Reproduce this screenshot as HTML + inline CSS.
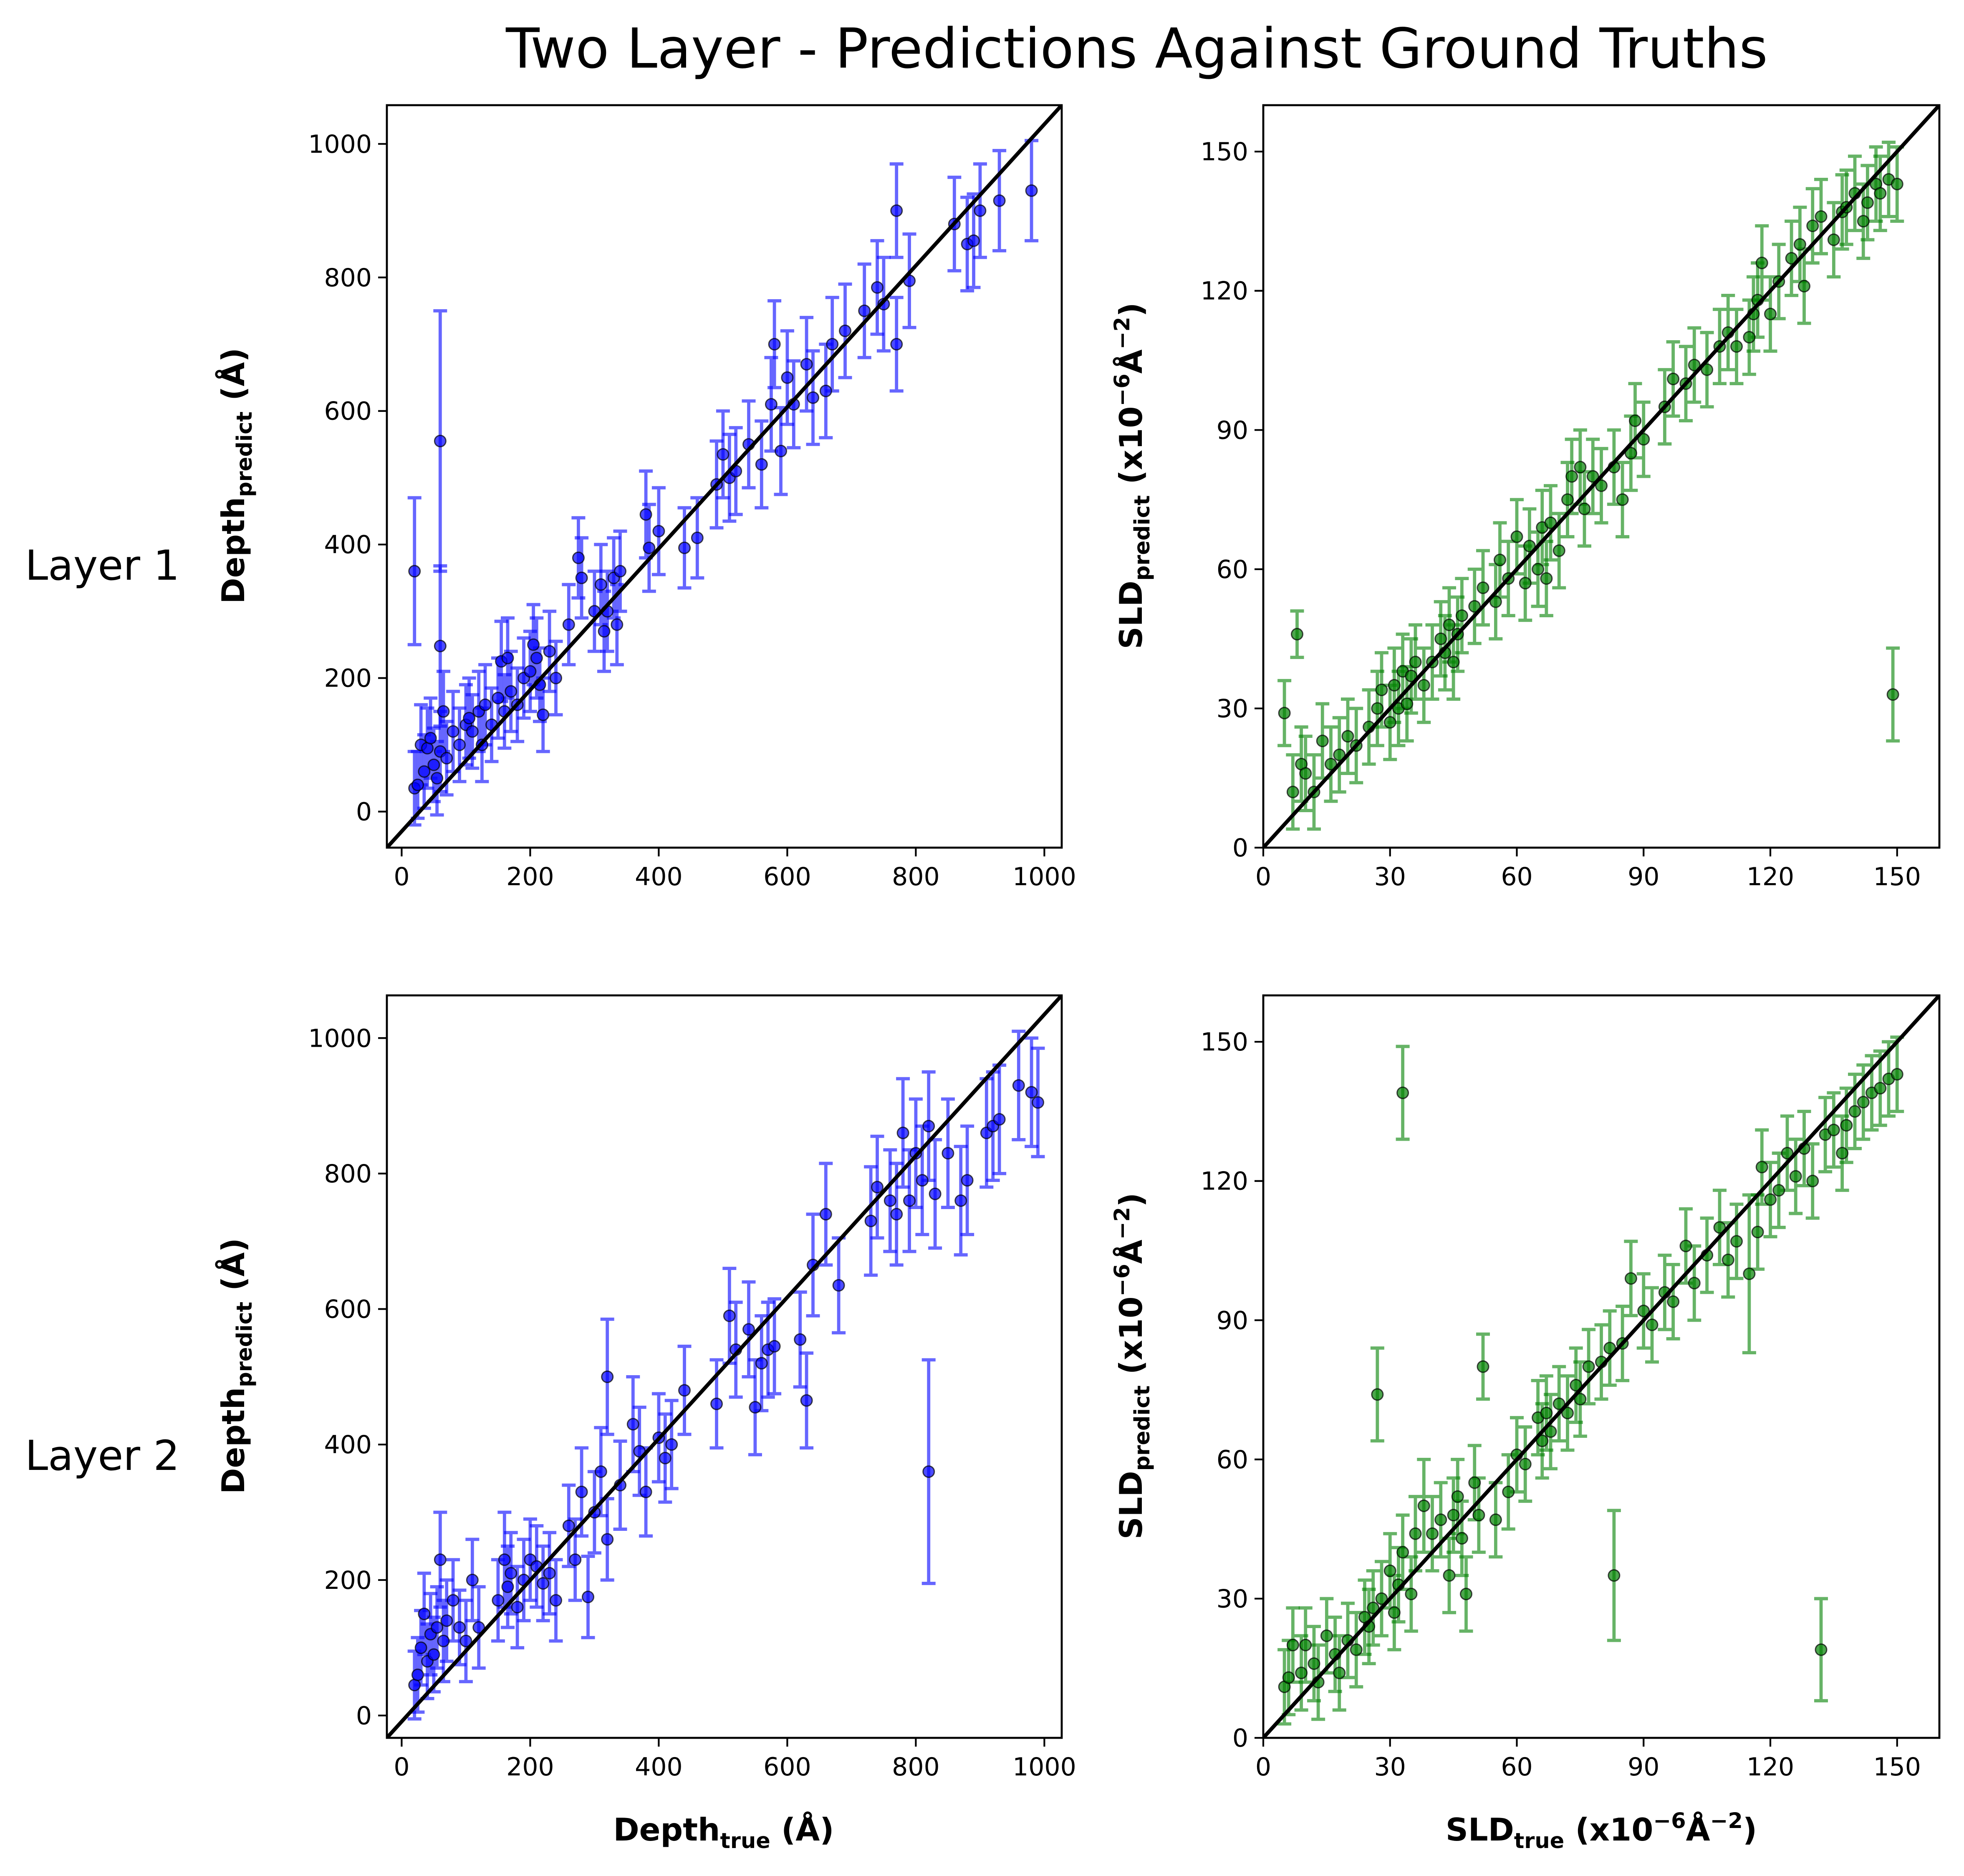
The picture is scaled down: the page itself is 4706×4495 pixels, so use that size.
<!DOCTYPE html>
<html><head><meta charset="utf-8"><style>html,body{margin:0;padding:0;background:#fff}svg{display:block}text{font-family:"DejaVu Sans","Liberation Sans",sans-serif}</style></head>
<body>
<svg id="fig" xmlns="http://www.w3.org/2000/svg" width="4706" height="4495" viewBox="0 0 1568.67 1498.33">
<rect width="1568.67" height="1498.33" fill="#fff"/>
<text x="908" y="54" font-size="44" text-anchor="middle">Two Layer - Predictions Against Ground Truths</text>
<text x="20" y="463" font-size="33">Layer 1</text>
<text x="20" y="1174" font-size="33">Layer 2</text>
<g id="plots"></g>
</svg>
<script>
// Panel 1: Layer 1 depth
const d1True = [20,20,25,30,35,40,45,50,55,60,60,60,65,70,80,90,100,105,110,120,125,130,140,150,155,160,165,170,180,190,200,205,210,215,220,230,240,260,275,280,300,310,315,320,330,335,340,380,385,400,440,460,490,500,510,520,540,560,575,580,590,600,610,630,640,660,670,690,720,740,750,770,770,790,860,880,890,900,930,980];
const d1Pred = [360,35,40,100,60,95,110,70,50,555,248,90,150,80,120,100,130,140,120,150,100,160,130,170,225,150,230,180,160,200,210,250,230,190,145,240,200,280,380,350,300,340,270,300,350,280,360,445,395,420,395,410,490,535,500,510,550,520,610,700,540,650,610,670,620,630,700,720,750,785,760,700,900,795,880,850,855,900,915,930];
const d1Err = [110,55,50,60,55,60,60,55,55,195,120,60,60,55,60,55,60,60,55,60,55,60,55,60,60,55,60,60,55,60,60,60,60,55,55,60,55,60,60,60,60,60,60,60,60,60,60,65,65,65,60,60,65,65,65,65,65,65,70,65,65,70,65,70,70,70,70,70,70,70,70,70,70,70,70,70,70,70,75,75];
// Panel 2: Layer 1 SLD
const s1True = [5,8,7,9,10,12,14,16,18,20,22,25,27,28,30,31,32,33,34,35,36,38,40,42,43,44,45,46,47,50,52,55,56,58,60,62,63,65,66,67,68,70,72,73,75,76,78,80,83,85,87,88,90,95,97,100,102,105,108,110,112,115,116,117,118,120,122,125,127,128,130,132,135,137,138,140,142,143,145,146,148,149,150];
const s1Pred = [29,46,12,18,16,12,23,18,20,24,22,26,30,34,27,35,30,38,31,37,40,35,40,45,42,48,40,46,50,52,56,53,62,58,67,57,65,60,69,58,70,64,75,80,82,73,80,78,82,75,85,92,88,95,101,100,104,103,108,111,108,110,115,118,126,115,122,127,130,121,134,136,131,137,138,141,135,139,143,141,144,33,143];
const s1Err = [7,5,8,8,8,8,8,8,8,8,8,8,8,8,8,8,8,8,8,8,8,8,8,8,8,8,8,8,8,8,8,8,8,8,8,8,8,8,8,8,8,8,8,8,8,8,8,8,8,8,8,8,8,8,8,8,8,8,8,8,8,8,8,8,8,8,8,8,8,8,8,8,8,8,8,8,8,8,8,8,8,10,8];
// Panel 3: Layer 2 depth
const d2True = [20,25,30,35,40,45,50,55,60,65,70,80,90,100,110,120,150,160,165,170,180,190,200,210,220,230,240,260,270,280,290,300,310,320,320,340,360,370,380,400,410,420,440,490,510,520,540,550,560,570,580,620,630,640,660,680,730,740,760,770,780,790,800,810,820,820,830,850,870,880,910,920,930,960,980,990];
const d2Pred = [45,60,100,150,80,120,90,130,230,110,140,170,130,110,200,130,170,230,190,210,160,200,230,220,195,210,170,280,230,330,175,300,360,260,500,340,430,390,330,410,380,400,480,460,590,540,570,455,520,540,545,555,465,665,740,635,730,780,760,740,860,760,830,790,360,870,770,830,760,790,860,870,880,930,920,905];
const d2Err = [50,55,55,60,55,60,55,60,70,60,60,60,55,60,60,60,60,70,60,60,60,60,60,60,55,60,60,60,60,65,60,60,65,60,85,65,70,65,65,65,65,65,65,65,70,70,70,70,70,70,70,70,70,75,75,70,80,75,75,75,80,75,80,80,165,80,80,80,80,80,80,80,80,80,80,80];
// Panel 4: Layer 2 SLD
const s2True = [5,6,7,9,10,12,13,15,17,18,20,22,24,25,26,27,28,30,31,32,33,33,35,36,38,40,42,44,45,46,47,48,50,51,52,55,58,60,62,65,66,67,68,70,72,74,75,77,80,82,83,85,87,90,92,95,97,100,102,105,108,110,112,115,117,118,120,122,124,126,128,130,132,133,135,137,138,140,142,144,146,148,150];
const s2Pred = [11,13,20,14,20,16,12,22,18,14,21,19,26,24,28,74,30,36,27,33,139,40,31,44,50,44,47,35,48,52,43,31,55,48,80,47,53,61,59,69,64,70,66,72,70,76,73,80,81,84,35,85,99,92,89,96,94,106,98,104,110,103,107,100,109,123,116,118,126,121,127,120,19,130,131,126,132,135,137,139,140,142,143];
const s2Err = [8,8,8,8,8,8,8,8,8,8,8,8,8,8,8,10,8,8,8,8,10,8,8,8,10,8,8,8,8,8,8,8,8,8,7,8,8,8,8,8,8,8,8,8,8,8,8,8,8,8,14,8,8,8,8,8,8,8,8,8,8,8,8,17,8,8,8,8,8,8,8,8,11,8,8,8,8,8,8,8,8,8,8];

const NS='http://www.w3.org/2000/svg';
const root=document.getElementById('plots');
function mk(tag,attrs,parent){const e=document.createElementNS(NS,tag);for(const k in attrs)e.setAttribute(k,attrs[k]);(parent||root).appendChild(e);return e;}

function panel(cfg){
  const {x0,x1,y0,y1,xmin,xmax,ymin,ymax,xt,yt,xs,ys,ps,color,ecolor,name}=cfg;
  const g=mk('g',{});
  
  
  const X=v=>x0+(v-xmin)/(xmax-xmin)*(x1-x0);
  const Y=v=>y1-(v-ymin)/(ymax-ymin)*(y1-y0);
  const clip='c'+name;
  const cp=mk('clipPath',{id:clip},g);mk('rect',{x:x0,y:y0,width:x1-x0,height:y1-y0},cp);
  const data=mk('g',{'clip-path':'url(#'+clip+')'},g);
  for(let i=0;i<xs.length;i++){
    const cx=X(xs[i]),a=Y(ys[i]-ps[i]),b=Y(ys[i]+ps[i]);
    const eb=mk('path',{d:`M${cx},${a}V${b}M${cx-5.5},${a}H${cx+5.5}M${cx-5.5},${b}H${cx+5.5}`,stroke:ecolor,'stroke-opacity':0.6,'stroke-width':2.6,fill:'none'},data);
    
    
  }
  for(let i=0;i<xs.length;i++){
    const c=mk('circle',{cx:X(xs[i]),cy:Y(ys[i]),r:4.5,fill:color,'fill-opacity':0.7,stroke:'#000','stroke-opacity':0.7,'stroke-width':1},data);
    
    
  }
  const ln=mk('line',{x1:x0,y1:y1,x2:x1,y2:y0,stroke:'#000','stroke-width':3},data);
  
  
  const fr=mk('rect',{x:x0,y:y0,width:x1-x0,height:y1-y0,fill:'none',stroke:'#000','stroke-width':1.6},g);
  
  
  xt.forEach(v=>{const px=X(v);mk('line',{x1:px,x2:px,y1:y1,y2:y1+7,stroke:'#000','stroke-width':1.4},g);
    const t=mk('text',{x:px,y:y1+30,'font-size':20,'text-anchor':'middle'},g);t.textContent=v;
    
    });
  yt.forEach(v=>{const py=Y(v);mk('line',{x1:x0-7,x2:x0,y1:py,y2:py,stroke:'#000','stroke-width':1.4},g);
    const t=mk('text',{x:x0-12,y:py+7,'font-size':20,'text-anchor':'end'},g);t.textContent=v;
    
    });
}
const dT=[0,200,400,600,800,1000], sT=[0,30,60,90,120,150];
panel({name:'panel-layer1-depth',x0:309,x1:848,y0:84,y1:677,xmin:-23,xmax:1027,ymin:-54,ymax:1058,xt:dT,yt:dT,xs:d1True,ys:d1Pred,ps:d1Err,color:'#0000ff',ecolor:'#0000ff'});
panel({name:'panel-layer1-sld',x0:1009,x1:1549,y0:84,y1:677,xmin:0,xmax:160,ymin:0,ymax:160,xt:sT,yt:sT,xs:s1True,ys:s1Pred,ps:s1Err,color:'#008000',ecolor:'#008000'});
panel({name:'panel-layer2-depth',x0:309,x1:848,y0:795,y1:1388,xmin:-23,xmax:1027,ymin:-33,ymax:1063,xt:dT,yt:dT,xs:d2True,ys:d2Pred,ps:d2Err,color:'#0000ff',ecolor:'#0000ff'});
panel({name:'panel-layer2-sld',x0:1009,x1:1549,y0:795,y1:1388,xmin:0,xmax:160,ymin:0,ymax:160,xt:sT,yt:sT,xs:s2True,ys:s2Pred,ps:s2Err,color:'#008000',ecolor:'#008000'});

function label(x,y,rot,main,sub,rest,nm){
  const t=mk('text',{x:x,y:y,'font-size':25,'font-weight':'bold','text-anchor':'middle',transform:rot?`rotate(-90 ${x} ${y})`:''});
  
  
  t.innerHTML=main+`<tspan font-size="17" dy="6">${sub}</tspan><tspan dy="-6"> </tspan>`+rest;
}
const sld='(x10<tspan font-size="17" dy="-10">−6</tspan><tspan dy="10">Å</tspan><tspan font-size="17" dy="-10">−2</tspan><tspan dy="10">)</tspan>';
label(195,380,true,'Depth','predict','(Å)','y-axis-title-layer1-depth');
label(195,1091,true,'Depth','predict','(Å)','y-axis-title-layer2-depth');
label(912,380,true,'SLD','predict',sld,'y-axis-title-layer1-sld');
label(912,1091,true,'SLD','predict',sld,'y-axis-title-layer2-sld');
label(578,1470,false,'Depth','true','(Å)','x-axis-title-depth');
label(1279,1470,false,'SLD','true',sld,'x-axis-title-sld');
</script>
</body></html>
